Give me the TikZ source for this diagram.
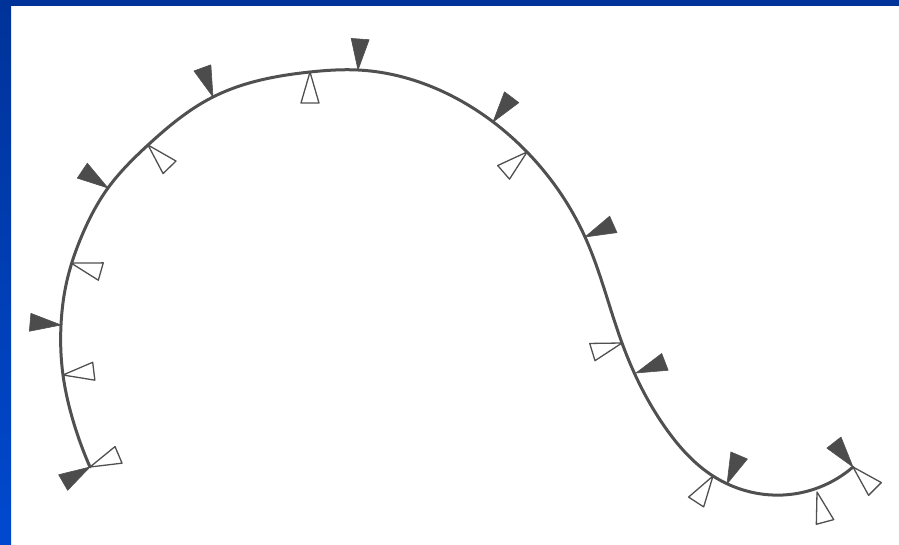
\documentclass[tikz,border=0pt]{standalone}
\usetikzlibrary{calc,hobby}
\definecolor{bandtop}{HTML}{003399}
\definecolor{bandbot}{HTML}{0049CF}
\definecolor{ink}{HTML}{505050}
\tikzset{
  curveline/.style={draw=ink, line width=3pt, line cap=round, line join=round},
  darkflag/.style={fill=ink!95!black, draw=ink, line width=0.6pt, line join=round},
  lightflag/.style={fill=white, draw=ink, line width=1.3pt, line join=round},
  flag/.pic={\path[pic actions] (0,0) -- (31,-9) -- (31,9) -- cycle;}
}
\begin{document}
\begin{tikzpicture}[x=1pt,y=-1pt]
\useasboundingbox (0,0) rectangle (899,545);
\fill[white] (0,0) rectangle (899,545);
% blue frame
\shade[top color=bandtop, bottom color=bandbot] (0,0) rectangle (11,545);
\fill[bandtop] (0,0) rectangle (899,6);
% attach points
\coordinate (p1) at (90,467);
\coordinate (p2) at (63,375);
\coordinate (p3) at (61,325);
\coordinate (p4) at (71,263);
\coordinate (p5) at (108,188);
\coordinate (p6) at (148,145);
\coordinate (p7) at (213,97);
\coordinate (p8) at (310,72);
\coordinate (p9) at (358,70);
\coordinate (p10) at (493,122);
\coordinate (p11) at (527,152);
\coordinate (p12) at (585,237);
\coordinate (p13) at (622,343);
\coordinate (p14) at (636,373);
\coordinate (p15) at (713,476);
\coordinate (p16) at (727,484);
\coordinate (p17) at (817,492);
\coordinate (p18) at (853,467);
% curve
\draw[curveline, use Hobby shortcut] (p1) .. (72,417) .. (p2) .. (p3) .. (66,285) .. (83,233)
 .. (p5) .. (p6) .. (p7) .. (p8) .. (p9) .. (413,80) .. (463,102) .. (p11) .. (p12)
 .. (p13) .. (667,430) .. (p15) .. (783,495) .. (p18);
% dark flags
\pic[darkflag, rotate=210] at (p1) {flag};
\pic[darkflag, rotate=175] at (p3) {flag};
\pic[darkflag, rotate=146] at (p5) {flag};
\pic[darkflag, rotate=110] at (p7) {flag};
\pic[darkflag, rotate=86] at (p9) {flag};
\pic[darkflag, rotate=53] at (p10) {flag};
\pic[darkflag, rotate=24] at (p12) {flag};
\pic[darkflag, rotate=21] at (p14) {flag};
\pic[darkflag, rotate=67] at (p16) {flag};
\pic[darkflag, rotate=128] at (p18) {flag};
% hollow flags
\pic[lightflag, rotate=23] at (p1) {flag};
\pic[lightflag, rotate=7] at (p2) {flag};
\pic[lightflag, rotate=-16] at (p4) {flag};
\pic[lightflag, rotate=-46] at (p6) {flag};
\pic[lightflag, rotate=-90] at (p8) {flag};
\pic[lightflag, rotate=221] at (p11) {flag};
\pic[lightflag, rotate=197] at (p13) {flag};
\pic[lightflag, rotate=237] at (p15) {flag};
\pic[lightflag, rotate=-75] at (p17) {flag};
\pic[lightflag, rotate=-45] at (p18) {flag};
\end{tikzpicture}
\end{document}
